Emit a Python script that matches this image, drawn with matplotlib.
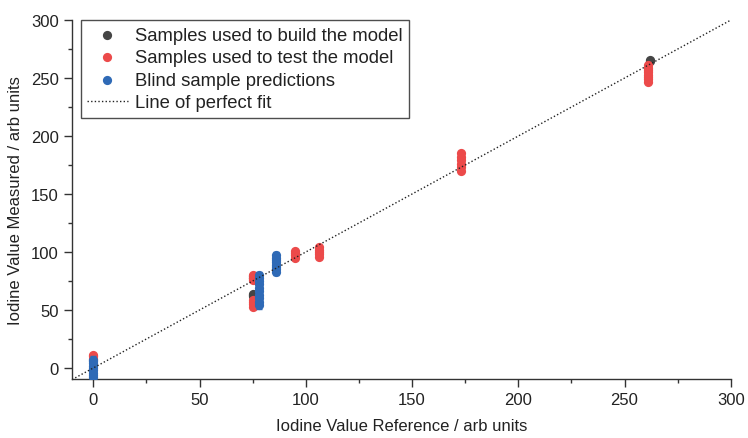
import numpy as np
import matplotlib.pyplot as plt
from matplotlib.ticker import MultipleLocator

plt.rcParams['font.family'] = ['Liberation Sans', 'DejaVu Sans']

# samples used to build the model (x = reference, y = measured)
build_x = [75, 75, 75, 75, 75, 262, 262]
build_y = [62, 63, 64, 78, 79, 265, 266]

# samples used to test the model
test_x = [0, 0, 0,
          75, 75, 75, 75, 75, 75, 75,
          95, 95, 95, 95,
          106, 106, 106, 106, 106,
          173, 173, 173, 173, 173, 173,
          261, 261, 261, 261, 261, 261, 261, 261]
test_y = [8, 10, 11,
          53, 55, 57, 59, 76, 78, 80,
          95, 97, 99, 101,
          96, 98, 100, 102, 104,
          170, 173, 176, 179, 182, 185,
          247, 249, 251, 253, 255, 257, 259, 261]

# blind sample predictions
blind_x = [0, 0, 0, 0, 0, 0, 0, 0, 0,
           78, 78, 78, 78, 78, 78, 78, 78, 78, 78,
           86, 86, 86, 86, 86, 86, 86, 86]
blind_y = [-8, -6, -4, -2, 0, 2, 4, 6, 7,
           54, 57, 60, 63, 66, 69, 72, 75, 78, 80,
           83, 85, 87, 89, 91, 93, 95, 97]
blind_err = [3] * len(blind_y)

fit_line = [-10, 300]

fig = plt.figure(figsize=(7.48, 4.39), dpi=100)
ax = fig.add_axes([0.0963, 0.1344, 0.8807, 0.8176])

ax.plot(fit_line, fit_line, color='#222222', lw=1, ls=(0, (1, 1.6)), zorder=4,
        label='Line of perfect fit')
ax.scatter(build_x, build_y, s=44, color='#454545', lw=0, zorder=2,
           label='Samples used to build the model')
ax.scatter(test_x, test_y, s=44, color='#ec4a4a', lw=0, zorder=3,
           label='Samples used to test the model')
ax.errorbar(blind_x, blind_y, yerr=blind_err, fmt='none', ecolor='#2f6ab6',
            elinewidth=1, capsize=2.5, zorder=3)
ax.scatter(blind_x, blind_y, s=44, color='#2f6ab6', lw=0, zorder=3,
           label='Blind sample predictions')

ax.set_xlim(-10, 300)
ax.set_ylim(-9.5, 300)
ax.xaxis.set_major_locator(MultipleLocator(50))
ax.xaxis.set_minor_locator(MultipleLocator(25))
ax.yaxis.set_major_locator(MultipleLocator(50))
ax.yaxis.set_minor_locator(MultipleLocator(25))

for s in ['top', 'right']:
    ax.spines[s].set_visible(False)
for s in ['left', 'bottom']:
    ax.spines[s].set_color('#333333')
    ax.spines[s].set_linewidth(1)
ax.tick_params(which='major', direction='out', length=6, width=1, color='#333333',
               labelsize=12, labelcolor='#222222')
ax.tick_params(which='minor', direction='out', length=3, width=1, color='#333333')

ax.set_xlabel('Iodine Value Reference / arb units', fontsize=12, color='#222222',
              labelpad=8)
ax.set_ylabel('Iodine Value Measured / arb units', fontsize=12, color='#222222',
              labelpad=6)

handles, labels = ax.get_legend_handles_labels()
order = [1, 2, 3, 0]
leg = ax.legend([handles[i] for i in order], [labels[i] for i in order],
                loc='upper left', bbox_to_anchor=(0.013, 1.0), borderaxespad=0,
                fontsize=13.3, frameon=True, fancybox=False, handlelength=2.2,
                handletextpad=0.4, labelspacing=0.3, borderpad=0.35, scatterpoints=1)
leg.get_frame().set_edgecolor('#222222')
leg.get_frame().set_linewidth(1)
for t in leg.get_texts():
    t.set_color('#222222')

fig.savefig('out.png', dpi=100)
